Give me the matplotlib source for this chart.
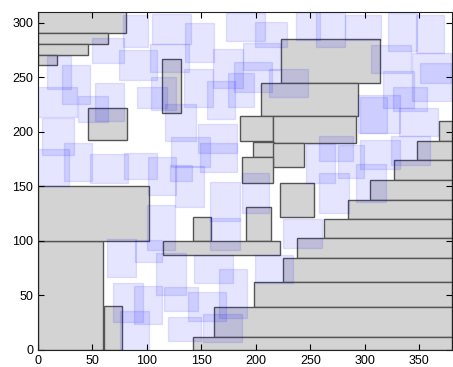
import matplotlib
matplotlib.use("Agg")
import matplotlib.pyplot as plt
from matplotlib.patches import Rectangle

# ----------------------------
# Placed (gray) rectangles: x, y, width, height
# ----------------------------
gray_x = [0, 61, 0, 0, 0, 0, 0, 46, 114, 223, 205, 185, 216, 197, 216, 187,
          222, 191, 142, 115, 368, 347.5, 327, 305, 284.5, 262.5, 238, 225,
          198, 162, 142]
gray_y = [0, 0, 100, 291, 281, 271, 261, 193, 217, 245, 215, 192, 190, 177,
          168, 153, 122, 100, 100, 87, 192, 174, 156, 138, 120, 102.5, 84, 62,
          39, 12, 0]
gray_w = [60, 16, 102, 81, 64, 46, 17, 36, 17, 91, 89, 31, 76, 20, 28, 29,
          31, 23, 17, 107, 12, 32.5, 53, 75, 95.5, 117.5, 142, 155, 182, 218,
          238]
gray_h = [100, 40, 50, 20, 10, 10, 10, 29, 50, 40, 30, 23, 25, 14, 22, 24,
          31, 31, 22, 13, 18, 18, 18, 18, 18, 17.5, 18.5, 22, 23, 27, 12]

# ----------------------------
# Candidate (blue) rectangles
# ----------------------------
blue_x = [78, 105, 135, 173, 199, 237, 255, 282, 321, 347, 50, 8, 22, 74, 103,
          161, 306, 343, 351, 212, 188, 0, 37, 52, 91, 104, 134, 155, 174, 180,
          317, 326, 294, 296, 331, 117, 122, 147, 149, 121, 4, 0, 24, 48, 79,
          101, 100, 126, 63, 89, 69, 88, 75, 108, 116, 138, 119, 151, 143, 166,
          199, 158, 158, 187, 225, 258, 246, 275, 296, 324, 292, 258]
blue_y = [278, 281, 264, 283, 278, 284, 278, 284, 274, 272, 263, 239, 226, 248,
          255, 240, 254, 228, 245, 232, 257, 214, 209, 210, 222, 220, 223, 212,
          223, 237, 222, 219, 199, 199, 196, 192, 168, 181, 163, 155, 179, 150,
          155, 153, 157, 142, 92, 131, 67, 81, 26, 24, 0, 50, 36, 27, 8, 7, 61,
          29, 61, 118, 92, 126, 94, 173, 153, 158, 166, 170, 136, 126]
blue_w = [23, 35, 27, 35, 30, 22, 27, 33, 27, 26, 29, 22, 26, 35, 36, 27, 36,
          36, 28, 36, 34, 36, 27, 27, 27, 23, 27, 26, 24, 35, 28, 31, 38, 24,
          36, 28, 36, 36, 34, 20, 29, 28, 26, 35, 30, 26, 26, 26, 27, 25, 27,
          26, 27, 28, 31, 35, 31, 36, 36, 26, 35, 27, 27, 25, 36, 31, 27, 24,
          36, 36, 27, 27]
blue_h = [29, 27, 36, 26, 23, 26, 32, 23, 35, 35, 23, 31, 35, 27, 26, 36, 26,
          44, 18, 26, 25, 27, 24, 35, 19, 30, 35, 35, 31, 27, 34, 22, 35, 33,
          26, 34, 27, 26, 27, 15, 34, 34, 35, 27, 24, 35, 41, 38, 35, 20, 35,
          35, 36, 39, 22, 26, 22, 26, 26, 45, 26, 36, 29, 36, 26, 23, 36, 30,
          27, 26, 35, 36]

# ----------------------------
# Plot
# ----------------------------
plt.rcParams["font.family"] = ["Liberation Sans", "DejaVu Sans"]
fig = plt.figure(figsize=(4.53, 3.67), dpi=100)
ax = fig.add_axes([38 / 453, 17 / 367, 414 / 453, 338 / 367])

for x, y, w, h in zip(gray_x, gray_y, gray_w, gray_h):
    ax.add_patch(Rectangle((x, y), w, h, facecolor="lightgray",
                           edgecolor="#555555", linewidth=1.0))

for x, y, w, h in zip(blue_x, blue_y, blue_w, blue_h):
    ax.add_patch(Rectangle((x, y), w, h, color="blue", alpha=0.1))

ax.set_xlim(0, 380)
ax.set_ylim(0, 310)
ax.set_xticks(range(0, 351, 50))
ax.set_yticks(range(0, 301, 50))
ax.tick_params(direction="in", top=True, right=True, length=4,
               labelsize=9, pad=3.5)
for s in ax.spines.values():
    s.set_color("#222222")

plt.savefig("out.png", dpi=100)
